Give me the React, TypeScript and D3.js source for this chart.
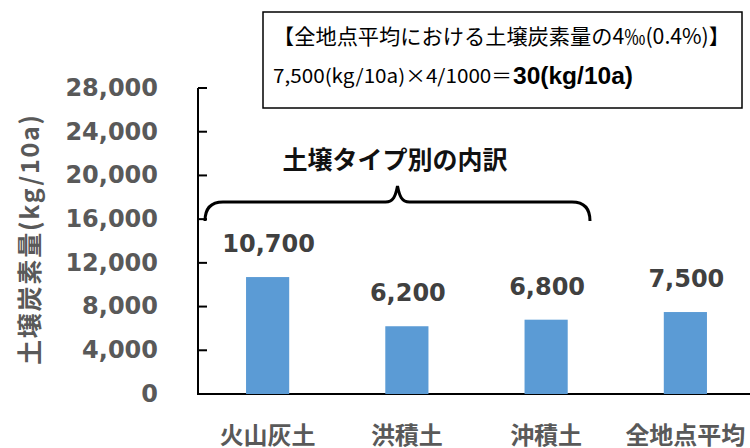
import { useEffect, useRef } from 'react'
import * as d3 from 'd3'

const categories = ['火山灰土', '洪積土', '沖積土', '全地点平均']
const carbonValues = [10700, 6200, 6800, 7500]
const yTicks = [0, 4000, 8000, 12000, 16000, 20000, 24000, 28000]
const yTitle = '土壌炭素量(kg/10a)'
const braceLabel = '土壌タイプ別の内訳'
const noteLine1 = '【全地点平均における土壌炭素量の4‰(0.4%)】'
const noteLine2a = '7,500(kg/10a)×4/1000＝'
const noteLine2b = '30(kg/10a)'

const svgWidth = 750
const svgHeight = 448
const cjk = '"Noto Sans CJK JP", "Noto Sans", sans-serif'
const num = '"DejaVu Sans", Verdana, sans-serif'
const barColor = '#5B9BD5'
const grey = '#595959'

export default function App() {
  const svgRef = useRef(null)

  useEffect(() => {
    svgRef.current.innerHTML = ''
    const svg = d3.select(svgRef.current)

    const axisX = 198
    const yScale = d3.scaleLinear().domain([0, 28000]).range([394, 88])
    const xScale = d3.scaleBand().domain(categories).range([axisX, 755]).padding(0)
    const barW = xScale.bandwidth() * 0.31

    // y axis: line + inward ticks
    svg.append('line')
      .attr('x1', axisX).attr('x2', axisX)
      .attr('y1', yScale(28000)).attr('y2', yScale(0))
      .attr('stroke', '#000').attr('stroke-width', 2)
    svg.append('g').selectAll('line').data(yTicks).enter().append('line')
      .attr('x1', axisX).attr('x2', axisX + 9)
      .attr('y1', d => yScale(d)).attr('y2', d => yScale(d))
      .attr('stroke', '#000').attr('stroke-width', 2)
    svg.append('g').selectAll('text').data(yTicks).enter().append('text')
      .attr('x', 158).attr('y', d => yScale(d)).attr('dy', '0.33em')
      .attr('text-anchor', 'end')
      .style('font', `bold 24px ${num}`).attr('fill', grey)
      .text(d => d3.format(',')(d))

    // x axis line
    svg.append('line')
      .attr('x1', axisX - 1).attr('x2', svgWidth)
      .attr('y1', yScale(0)).attr('y2', yScale(0))
      .attr('stroke', '#000').attr('stroke-width', 2)

    // y title
    svg.append('text')
      .attr('transform', 'translate(28, 240) rotate(-90)')
      .attr('text-anchor', 'middle').attr('dominant-baseline', 'central')
      .attr('textLength', 250).attr('lengthAdjust', 'spacing')
      .style('font', `bold 25px ${cjk}`).attr('fill', grey)
      .text(yTitle)

    // bars
    const bars = categories.map((c, i) => ({ label: c, value: carbonValues[i] }))
    svg.append('g').selectAll('rect').data(bars).enter().append('rect')
      .attr('x', d => xScale(d.label) + (xScale.bandwidth() - barW) / 2)
      .attr('width', barW)
      .attr('y', d => yScale(d.value))
      .attr('height', d => yScale(0) - yScale(d.value))
      .attr('fill', barColor)

    svg.append('g').selectAll('text').data(bars).enter().append('text')
      .attr('x', d => xScale(d.label) + xScale.bandwidth() / 2 + 1)
      .attr('y', d => yScale(d.value) - 25)
      .attr('text-anchor', 'middle')
      .style('font', `bold 24px ${num}`).attr('fill', '#404040')
      .text(d => d3.format(',')(d.value))

    // category labels
    svg.append('g').selectAll('text').data(categories).enter().append('text')
      .attr('x', d => xScale(d) + xScale.bandwidth() / 2)
      .attr('y', 433)
      .attr('text-anchor', 'middle').attr('dominant-baseline', 'central')
      .style('font', `bold 24px ${cjk}`).attr('fill', grey)
      .text(d => d)

    // brace over soil types
    const bx0 = 205, bx1 = 590, tip = (bx0 + bx1) / 2
    const brace = `M${bx0},221 C${bx0},208 ${bx0 + 6},202 ${bx0 + 18},202 L${tip - 12},202 C${tip - 4},202 ${tip - 2},196 ${tip},186 C${tip + 2},196 ${tip + 4},202 ${tip + 12},202 L${bx1 - 18},202 C${bx1 - 6},202 ${bx1},208 ${bx1},221`
    svg.append('path').attr('d', brace)
      .attr('fill', 'none').attr('stroke', '#000').attr('stroke-width', 3)
    svg.append('text')
      .attr('x', 395).attr('y', 158)
      .attr('text-anchor', 'middle').attr('dominant-baseline', 'central')
      .style('font', `bold 25px ${cjk}`).attr('fill', '#111')
      .text(braceLabel)

    // note box
    svg.append('rect')
      .attr('x', 263).attr('y', 12).attr('width', 479).attr('height', 96)
      .attr('fill', '#fff').attr('stroke', '#000').attr('stroke-width', 1.5)
    svg.append('text')
      .attr('x', 273).attr('y', 44)
      .attr('textLength', 457).attr('lengthAdjust', 'spacingAndGlyphs')
      .style('font', `21px ${cjk}`).attr('fill', '#000')
      .text(noteLine1)
    svg.append('text')
      .attr('x', 273).attr('y', 83)
      .attr('textLength', 239).attr('lengthAdjust', 'spacingAndGlyphs')
      .style('font', `19px ${cjk}`).attr('fill', '#000')
      .text(noteLine2a)
    svg.append('text')
      .attr('x', 513).attr('y', 84)
      .attr('textLength', 120).attr('lengthAdjust', 'spacingAndGlyphs')
      .style('font', `bold 24px "Liberation Sans", Arial, sans-serif`).attr('fill', '#000')
      .text(noteLine2b)
  }, [])

  return (
    <svg
      ref={svgRef}
      width={svgWidth}
      height={svgHeight}
      viewBox={`0 0 ${svgWidth} ${svgHeight}`}
      style={{ position: 'absolute', left: 0, top: 0, display: 'block', background: '#fff' }}
    />
  )
}
